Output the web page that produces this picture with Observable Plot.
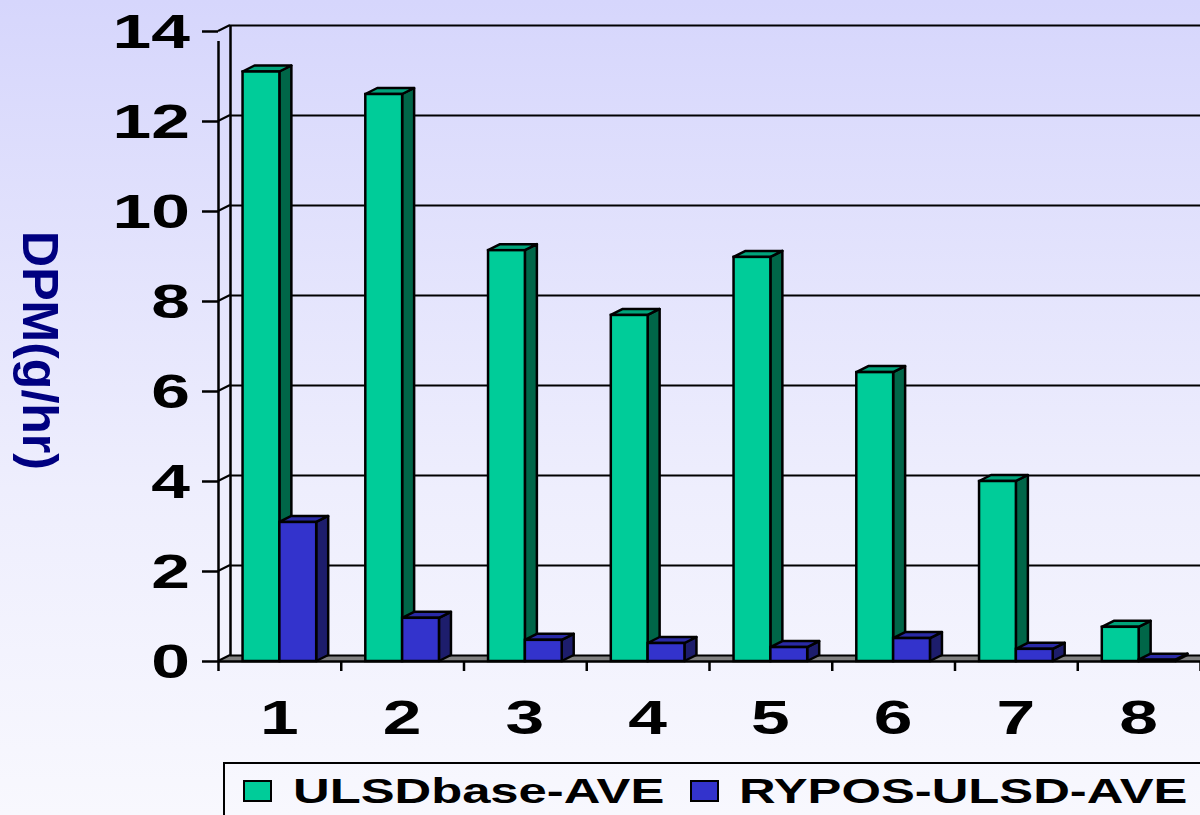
<!DOCTYPE html>
<html><head><meta charset="utf-8">
<script src="https://cdn.jsdelivr.net/npm/d3@7"></script>
<script src="https://cdn.jsdelivr.net/npm/@observablehq/plot@0.6"></script>
<style>
html,body{margin:0;padding:0;}
body{width:1200px;height:815px;overflow:hidden;background:linear-gradient(to bottom,#d6d6fc 0%,#eeeefd 60%,#f8f8fe 100%);font-family:"Liberation Sans",Arial,sans-serif;}
#chart svg{display:block;background:transparent;overflow:visible;}
#legend{position:relative;height:63px;width:1200px;overflow:hidden;}
#legend .box{position:absolute;left:223px;top:10px;width:1000px;height:80px;border:2.5px solid #000;}
#legend .sw{position:absolute;box-sizing:border-box;border:2px solid #000;width:29px;height:22px;top:28px;}
#legend .lbl{position:absolute;top:21px;font-size:35px;line-height:35px;font-weight:bold;color:#000;white-space:nowrap;transform:scaleX(1.45);transform-origin:0 0;}
</style></head><body>
<div id="chart"></div>
<div id="legend"></div>
<script>
const categories = ["1","2","3","4","5","6","7","8"];
const ulsdBase = [13.1, 12.6, 9.13, 7.69, 8.98, 6.42, 4.0, 0.76];
const ryposUlsd = [3.09, 0.96, 0.47, 0.40, 0.31, 0.51, 0.27, 0.03];
const seriesNames = ["ULSDbase-AVE", "RYPOS-ULSD-AVE"];
const yTicks = [0, 2, 4, 6, 8, 10, 12, 14];
const yTickLabels = ["0", "2", "4", "6", "8", "10", "12", "14"];
const yTitle = "DPM(g/hr)";

const frontColors = ["#00CC99", "#3333CC"];
const topColors = ["#00A47B", "#2A2AA6"];
const sideColors = ["#006648", "#1D1D6C"];
const DX = 12, DY = -6;   // 3D depth offset in pixels
const BAR = 0.3;          // bar width in category units
const STRETCH = 1.45;     // horizontal stretch of the lettering

const seriesValues = [ulsdBase, ryposUlsd];
const bars = [];
categories.forEach((c, i) => {
  seriesValues.forEach((vals, s) => {
    const pos = i + 1;
    bars.push({cat: c, s, value: vals[i], x1: s === 0 ? pos - BAR : pos, x2: s === 0 ? pos : pos + BAR});
  });
});
const catPos = categories.map((c, i) => ({label: c, pos: i + 1}));
const bounds = d3.range(categories.length + 1).map(i => i + 0.5);
const xLo = 0.5, xHi = categories.length + 0.5;

function structure(index, scales) {
  const {x, y} = scales;
  const g = d3.create("svg:g");
  const x0 = x(xLo), x1 = x(xHi), y0 = y(0);
  g.append("polygon")
    .attr("points", [[x0, y0], [x1, y0], [x1 + DX, y0 + DY], [x0 + DX, y0 + DY]].map(p => p.join(",")).join(" "))
    .attr("fill", "#808080");
  for (const v of yTicks) {
    g.append("line").attr("x1", x0).attr("y1", y(v)).attr("x2", x0 + DX).attr("y2", y(v) + DY)
      .attr("stroke", "#000").attr("stroke-width", 2);
  }
  return g.node();
}

function bars3d(index, scales) {
  const {x, y} = scales;
  const g = d3.create("svg:g").attr("stroke", "#000").attr("stroke-width", 2.5).attr("stroke-linejoin", "round");
  for (const b of bars) {
    const a = x(b.x1), c = x(b.x2), t = y(b.value), z = y(0);
    g.append("polygon")
      .attr("points", [[c, z], [c, t], [c + DX, t + DY], [c + DX, z + DY]].map(p => p.join(",")).join(" "))
      .attr("fill", sideColors[b.s]);
    g.append("polygon")
      .attr("points", [[a, t], [c, t], [c + DX, t + DY], [a + DX, t + DY]].map(p => p.join(",")).join(" "))
      .attr("fill", topColors[b.s]);
  }
  return g.node();
}

function tickLabels(index, scales) {
  const {x, y} = scales;
  const g = d3.create("svg:g")
    .attr("font-family", "'Liberation Sans', Arial, sans-serif")
    .attr("font-size", 48).attr("font-weight", "bold").attr("fill", "#000");
  yTicks.forEach((v, i) => {
    g.append("text")
      .attr("transform", `translate(${x(xLo) - 28},${y(v)}) scale(${STRETCH},1)`)
      .attr("text-anchor", "end").attr("dy", "0.36em")
      .text(yTickLabels[i]);
  });
  catPos.forEach(d => {
    g.append("text")
      .attr("transform", `translate(${x(d.pos)},${y(0) + 56}) scale(${STRETCH},1)`)
      .attr("text-anchor", "middle").attr("dy", "0.36em")
      .text(d.label);
  });
  return g.node();
}

const chart = Plot.plot({
  width: 1200,
  height: 752,
  marginLeft: 218,
  marginRight: 0,
  marginTop: 31,
  marginBottom: 91,
  style: {background: "transparent", fontFamily: "'Liberation Sans', Arial, sans-serif"},
  x: {type: "linear", domain: [xLo, xHi], axis: null},
  y: {domain: [0, 14], axis: null},
  marks: [
    structure,
    Plot.ruleY(yTicks, {x1: xLo, x2: xHi, dx: DX, dy: DY, stroke: "#000", strokeWidth: 2}),
    Plot.ruleX([xLo], {y1: 0, y2: 14, dx: DX, dy: DY, stroke: "#000", strokeWidth: 2.5}),
    Plot.ruleX([xLo], {y1: 0, y2: 14, stroke: "#000", strokeWidth: 2.5, insetBottom: -10}),
    Plot.ruleY(yTicks, {x1: xLo, x2: xLo, insetLeft: -16, stroke: "#000", strokeWidth: 2.5}),
    bars3d,
    Plot.rectY(bars, {x1: "x1", x2: "x2", y1: 0, y2: "value", fill: d => frontColors[d.s], stroke: "#000", strokeWidth: 2.5}),
    Plot.ruleY([0], {x1: xLo, x2: xHi, stroke: "#000", strokeWidth: 2.5}),
    Plot.ruleX(bounds, {y1: 0, y2: 0, insetBottom: -10, stroke: "#000", strokeWidth: 2.5}),
    tickLabels,
    Plot.text([yTitle], {frameAnchor: "left", dx: -180, dy: 4, rotate: 90, textAnchor: "middle", fontSize: 50, fontWeight: "bold", fill: "#000080"})
  ]
});
document.getElementById("chart").appendChild(chart);

const legend = d3.select("#legend");
legend.append("div").attr("class", "box");
const swX = [243, 690], lblX = [293, 739];
seriesNames.forEach((name, s) => {
  legend.append("div").attr("class", "sw").style("left", swX[s] + "px").style("background", frontColors[s]);
  legend.append("div").attr("class", "lbl").style("left", lblX[s] + "px").text(name);
});
</script>
</body></html>
